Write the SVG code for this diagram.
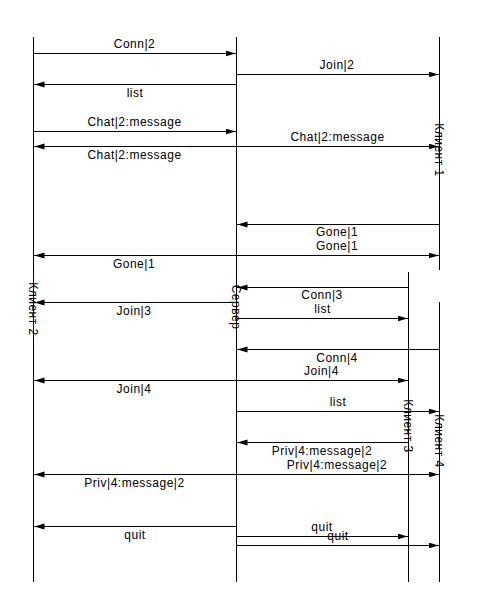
<svg xmlns="http://www.w3.org/2000/svg" width="477" height="614" viewBox="0 0 477 614">
<style>
.life{stroke:#000;stroke-width:1;fill:none}
.msg{stroke:#000;stroke-width:1;fill:none;marker-end:url(#ah)}
text{font-family:"Liberation Sans",Arial,sans-serif;font-size:12px;letter-spacing:0.5px;fill:#000;text-anchor:middle}
</style>
<defs>
<marker id="ah" markerUnits="userSpaceOnUse" markerWidth="12" markerHeight="8" refX="11" refY="3" orient="auto">
<path d="M0,0 L10,3 L0,6 z" fill="#000"/>
</marker>
</defs>
<rect width="477" height="614" fill="#fff"/>
<g id="client2">
<line class="life" x1="33.5" y1="37" x2="33.5" y2="582"/>
<text transform="translate(28.5,309) rotate(90)">Клиент 2</text>
</g>
<g id="server">
<line class="life" x1="236.5" y1="37" x2="236.5" y2="582"/>
<text transform="translate(231.5,307) rotate(90)">Сервер</text>
</g>
<g id="client1">
<line class="life" x1="439.5" y1="37" x2="439.5" y2="270"/>
<text transform="translate(434.5,150) rotate(90)">Клиент 1</text>
</g>
<g id="client3">
<line class="life" x1="408.5" y1="272" x2="408.5" y2="582"/>
<text transform="translate(403.5,426) rotate(90)">Клиент 3</text>
</g>
<g id="client4">
<line class="life" x1="439.5" y1="302" x2="439.5" y2="582"/>
<text transform="translate(434.5,441) rotate(90)">Клиент 4</text>
</g>
<g id="connectors">
<line class="msg" x1="33.5" y1="53.5" x2="236.5" y2="53.5"/>
<text x="134.5" y="47.5">Conn|2</text>
<line class="msg" x1="236.5" y1="74.5" x2="439.5" y2="74.5"/>
<text x="337" y="68.5">Join|2</text>
<line class="msg" x1="236.5" y1="84.5" x2="33.5" y2="84.5"/>
<text x="135" y="96.5">list</text>
<line class="msg" x1="33.5" y1="131.5" x2="236.5" y2="131.5"/>
<text x="134.5" y="125.5">Chat|2:message</text>
<line class="msg" x1="236.5" y1="146.5" x2="439.5" y2="146.5"/>
<text x="337.5" y="140.5">Chat|2:message</text>
<line class="msg" x1="236.5" y1="146.5" x2="33.5" y2="146.5"/>
<text x="134.5" y="158.5">Chat|2:message</text>
<line class="msg" x1="439.5" y1="224.5" x2="236.5" y2="224.5"/>
<text x="337" y="236">Gone|1</text>
<line class="msg" x1="236.5" y1="255.5" x2="439.5" y2="255.5"/>
<text x="337" y="250">Gone|1</text>
<line class="msg" x1="236.5" y1="255.5" x2="33.5" y2="255.5"/>
<text x="134" y="267.5">Gone|1</text>
<line class="msg" x1="408.5" y1="287.5" x2="236.5" y2="287.5"/>
<text x="322" y="299">Conn|3</text>
<line class="msg" x1="236.5" y1="302.5" x2="33.5" y2="302.5"/>
<text x="134" y="314.5">Join|3</text>
<line class="msg" x1="236.5" y1="318.5" x2="408.5" y2="318.5"/>
<text x="322.5" y="313">list</text>
<line class="msg" x1="439.5" y1="349.5" x2="236.5" y2="349.5"/>
<text x="337" y="361.5">Conn|4</text>
<line class="msg" x1="236.5" y1="380.5" x2="408.5" y2="380.5"/>
<text x="321.5" y="375">Join|4</text>
<line class="msg" x1="236.5" y1="380.5" x2="33.5" y2="380.5"/>
<text x="134" y="392.5">Join|4</text>
<line class="msg" x1="236.5" y1="411.5" x2="439.5" y2="411.5"/>
<text x="338" y="405.5">list</text>
<line class="msg" x1="408.5" y1="442.5" x2="236.5" y2="442.5"/>
<text x="322" y="454.5">Priv|4:message|2</text>
<line class="msg" x1="236.5" y1="474.5" x2="439.5" y2="474.5"/>
<text x="337" y="468.5">Priv|4:message|2</text>
<line class="msg" x1="236.5" y1="474.5" x2="33.5" y2="474.5"/>
<text x="134.5" y="486.5">Priv|4:message|2</text>
<line class="msg" x1="236.5" y1="526.5" x2="33.5" y2="526.5"/>
<text x="135" y="538.5">quit</text>
<line class="msg" x1="236.5" y1="536.5" x2="408.5" y2="536.5"/>
<text x="322" y="530.5">quit</text>
<line class="msg" x1="236.5" y1="545.5" x2="439.5" y2="545.5"/>
<text x="338" y="539.5">quit</text>
</g>
</svg>
